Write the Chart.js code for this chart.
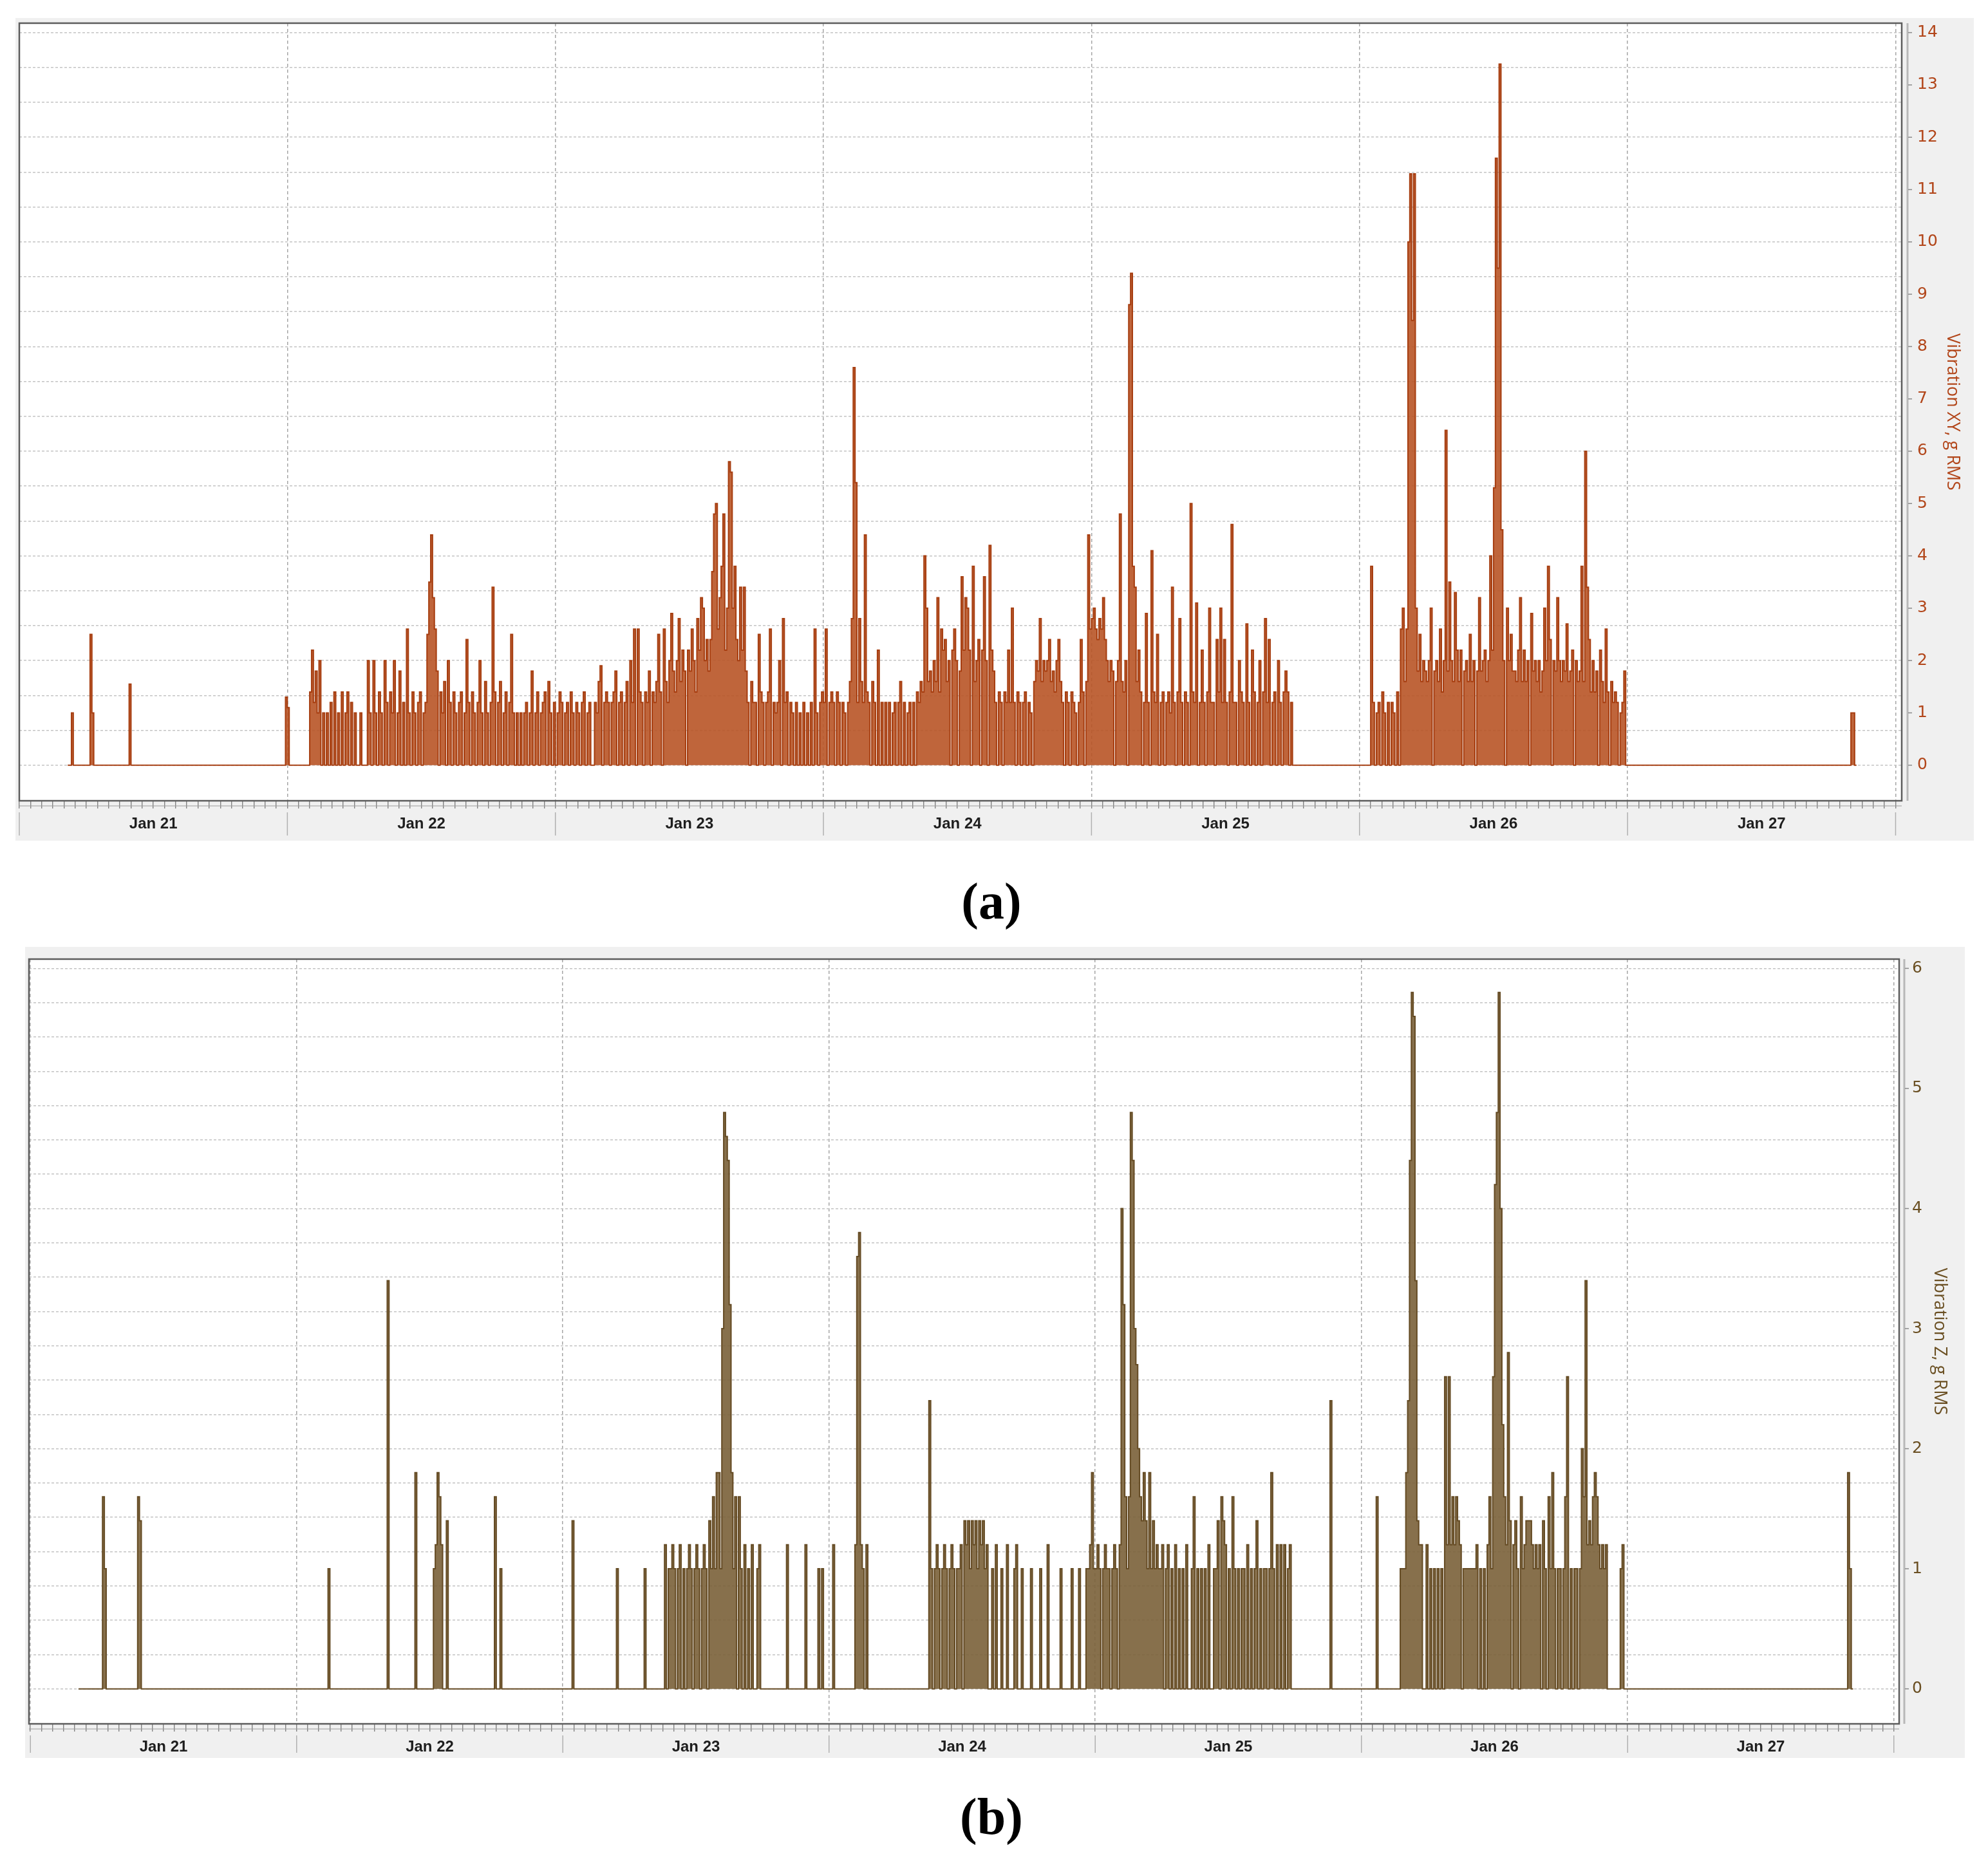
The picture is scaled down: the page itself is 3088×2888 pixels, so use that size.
<!DOCTYPE html>
<html><head><meta charset="utf-8">
<script src="https://cdn.jsdelivr.net/npm/chart.js@4.4.1/dist/chart.umd.min.js"></script>
<style>
html,body{margin:0;padding:0;background:#fff;width:3088px;height:2888px;overflow:hidden;position:relative;}
canvas{position:absolute;}
#ca{left:24px;top:28px;width:3042px;height:1278px;}
#cb{left:39px;top:1471px;width:3013px;height:1260px;}
.cap{position:absolute;transform:translate(-50%,-50%);font:bold 80px "Liberation Serif","Times New Roman",serif;color:#000;line-height:1;}
</style></head><body>
<canvas id="ca" width="3042" height="1278"></canvas>
<canvas id="cb" width="3013" height="1260"></canvas>
<div class="cap" style="left:1540px;top:1400px">(a)</div>
<div class="cap" style="left:1540px;top:2822px">(b)</div>
<script>
// ---- categories / tick labels ----
const dayLabels = ['Jan 21','Jan 22','Jan 23','Jan 24','Jan 25','Jan 26','Jan 27'];
const xyTickValues = [0,1,2,3,4,5,6,7,8,9,10,11,12,13,14];
const zTickValues = [0,1,2,3,4,5,6];
const SAMPLES_PER_HOUR = 6; // one value every 10 minutes, one line = one hour

// ---- (a) Vibration XY, g RMS ----
const xyJan21 = [
 null,null,null,null,null,null,
 null,null,null,null,null,null,
 null,null,null,null,null,null,
 null,null,null,null,null,null,
 null,null,0,0,0,1.0,
 0,0,0,0,0,0,
 0,0,0,2.5,1.0,0,
 0,0,0,0,0,0,
 0,0,0,0,0,0,
 0,0,0,0,0,0,
 1.55,0,0,0,0,0,
 0,0,0,0,0,0,
 0,0,0,0,0,0,
 0,0,0,0,0,0,
 0,0,0,0,0,0,
 0,0,0,0,0,0,
 0,0,0,0,0,0,
 0,0,0,0,0,0,
 0,0,0,0,0,0,
 0,0,0,0,0,0,
 0,0,0,0,0,0,
 0,0,0,0,0,0,
 0,0,0,0,0,0,
 0,0,0,0,0,0
];
const xyJan22 = [
 1.3,1.1,0,0,0,0,
 0,0,0,0,0,0,
 0,1.4,2.2,1.2,1.8,1.0,
 2.0,0,1.0,0,1.0,0,
 1.2,0,1.4,0,1.0,0,
 1.4,0,1.0,1.4,0,1.2,
 0,1.0,0,0,1.0,0,
 0,0,2.0,1.0,0,2.0,
 1.0,0,1.4,1.0,0,2.0,
 1.2,0,1.4,1.0,2.0,0,
 1.0,1.8,0,1.2,0,2.6,
 1.0,0,1.4,1.0,0,1.2,
 1.4,0,1.0,1.2,2.5,3.5,
 4.4,3.2,2.6,1.8,0,1.4,
 1.0,1.6,0,2.0,1.2,0,
 1.4,1.0,0,1.2,1.4,0,
 1.0,2.4,1.2,0,1.4,1.0,
 0,1.2,2.0,1.0,0,1.6,
 1.0,0,1.2,3.4,1.4,0,
 1.2,1.6,0,1.0,1.4,0,
 1.2,2.5,1.0,0,1.0,0,
 1.0,0,1.0,1.2,0,1.0,
 1.8,0,1.0,1.4,0,1.0,
 1.2,1.4,0,1.6,1.0,0
];
const xyJan23 = [
 1.2,0,1.0,1.4,1.2,0,
 1.0,1.2,0,1.4,1.0,0,
 1.2,1.0,0,1.2,1.4,0,
 1.0,1.2,0,0,1.2,1.0,
 1.6,1.9,0,1.2,1.4,1.2,
 0,1.2,1.4,1.8,0,1.2,
 1.4,0,1.2,1.6,0,2.0,
 1.2,2.6,0,2.6,1.4,1.2,
 0,1.4,1.2,1.8,0,1.4,
 1.2,1.6,2.5,1.4,0,2.6,
 1.6,1.2,2.0,2.9,1.8,1.4,
 2.0,2.8,1.6,2.2,1.8,0,
 2.2,1.8,2.6,2.0,1.4,2.8,
 2.2,3.2,3.0,2.0,2.4,1.8,
 2.4,3.7,4.8,5.0,2.6,3.2,
 3.8,4.8,2.2,3.0,5.8,5.6,
 3.0,3.8,2.4,2.0,3.4,2.2,
 3.4,1.8,1.2,0,1.6,1.2,
 1.2,0,2.5,1.4,1.2,0,
 1.2,1.4,2.6,0,1.2,1.0,
 1.2,2.0,0,2.8,1.2,1.4,
 0,1.2,1.0,0,1.2,0,
 1.0,0,1.2,0,1.0,0,
 1.2,0,2.6,1.0,0,1.2
];
const xyJan24 = [
 1.4,1.2,2.6,0,1.2,1.4,
 1.2,0,1.4,1.2,0,1.2,
 1.0,0,1.2,1.6,2.8,7.6,
 5.4,1.2,2.8,1.6,1.2,4.4,
 1.4,1.2,0,1.6,1.2,0,
 2.2,0,1.2,0,1.2,0,
 1.2,0,1.0,1.2,0,1.2,
 1.6,0,1.2,0,1.0,1.2,
 0,1.2,0,1.4,1.2,1.6,
 1.4,4.0,3.0,1.6,1.8,1.4,
 2.0,1.6,3.2,1.4,2.6,2.2,
 2.4,1.6,2.0,0,2.2,2.6,
 2.0,0,1.8,3.6,2.2,3.2,
 3.0,2.2,0,3.8,1.6,2.0,
 2.4,0,2.2,3.6,2.0,0,
 4.2,2.2,1.8,1.2,0,1.4,
 1.2,0,1.4,1.2,2.2,1.2,
 3.0,1.2,0,1.4,1.2,0,
 1.2,1.4,0,1.2,1.0,0,
 1.6,2.0,1.8,2.8,1.6,2.0,
 1.8,2.0,2.4,1.6,1.8,1.4,
 2.0,2.4,1.6,1.2,0,1.4,
 1.2,0,1.4,1.2,1.0,0,
 1.2,2.4,1.4,0,1.6,4.4
];
const xyJan25 = [
 2.6,2.8,3.0,2.6,2.4,2.8,
 2.6,3.2,2.4,2.0,1.6,2.0,
 1.8,0,1.6,2.0,4.8,1.6,
 1.4,2.0,0,8.8,9.4,3.8,
 3.4,1.6,2.2,1.4,0,1.2,
 2.9,1.2,0,4.1,1.4,1.2,
 2.5,0,1.2,1.4,0,1.2,
 1.4,1.0,3.4,1.2,0,1.4,
 2.8,1.2,0,1.4,1.2,0,
 5.0,1.4,1.2,3.1,0,1.2,
 2.2,1.2,0,1.4,3.0,1.2,
 1.2,0,2.4,1.4,3.0,1.2,
 2.4,1.2,0,1.4,4.6,1.2,
 1.2,0,2.0,1.4,1.2,0,
 2.7,1.2,0,2.2,1.4,0,
 1.2,2.0,0,1.4,2.8,1.2,
 2.4,0,1.2,1.4,0,2.0,
 1.2,0,1.4,1.8,1.4,0,
 1.2,0,0,0,0,0,
 0,0,0,0,0,0,
 0,0,0,0,0,0,
 0,0,0,0,0,0,
 0,0,0,0,0,0,
 0,0,0,0,0,0
];
const xyJan26 = [
 0,0,0,0,0,0,
 0,3.8,1.2,0,1.0,1.2,
 0,1.4,1.0,0,1.2,0,
 1.2,1.0,0,1.4,0,2.6,
 3.0,1.6,2.6,10.0,11.3,8.5,
 11.3,3.0,1.8,2.5,1.6,2.0,
 1.8,1.6,2.0,3.0,0,1.8,
 2.0,1.6,2.6,1.4,2.0,6.4,
 1.8,3.5,2.0,1.6,3.3,2.2,
 1.6,2.2,0,1.8,2.0,1.6,
 2.5,1.6,2.0,0,1.8,3.2,
 1.8,2.0,2.2,1.6,2.0,4.0,
 2.2,5.3,11.6,9.5,13.4,4.5,
 2.0,0,3.0,2.0,2.5,1.8,
 1.8,1.6,2.2,3.2,1.6,2.2,
 1.6,2.0,0,2.9,1.8,2.0,
 1.6,2.0,1.4,1.8,3.0,2.0,
 3.8,2.4,0,2.0,1.8,3.2,
 2.0,1.6,2.0,1.8,2.7,1.6,
 1.8,2.2,0,2.0,1.6,1.8,
 3.8,1.6,6.0,3.4,2.4,1.4,
 2.0,1.4,1.8,0,2.2,1.6,
 1.2,2.6,1.4,0,1.6,1.2,
 1.4,1.2,0,1.0,1.2,1.8
];
const xyJan27 = [
 0,0,0,0,0,0,
 0,0,0,0,0,0,
 0,0,0,0,0,0,
 0,0,0,0,0,0,
 0,0,0,0,0,0,
 0,0,0,0,0,0,
 0,0,0,0,0,0,
 0,0,0,0,0,0,
 0,0,0,0,0,0,
 0,0,0,0,0,0,
 0,0,0,0,0,0,
 0,0,0,0,0,0,
 0,0,0,0,0,0,
 0,0,0,0,0,0,
 0,0,0,0,0,0,
 0,0,0,0,0,0,
 0,0,0,0,0,0,
 0,0,0,0,0,0,
 0,0,0,0,0,0,
 0,0,0,0,0,0,
 0,1.0,1.0,0,null,null,
 null,null,null,null,null,null,
 null,null,null,null,null,null,
 null,null,null,null,null,null
];

// ---- (b) Vibration Z, g RMS ----
const zJan21 = [
 null,null,null,null,null,null,
 null,null,null,null,null,null,
 null,null,null,null,null,null,
 null,null,null,null,null,null,
 null,null,0,0,0,0,
 0,0,0,0,0,0,
 0,0,0,0,1.6,1.0,
 0,0,0,0,0,0,
 0,0,0,0,0,0,
 0,0,0,0,0,1.6,
 1.4,0,0,0,0,0,
 0,0,0,0,0,0,
 0,0,0,0,0,0,
 0,0,0,0,0,0,
 0,0,0,0,0,0,
 0,0,0,0,0,0,
 0,0,0,0,0,0,
 0,0,0,0,0,0,
 0,0,0,0,0,0,
 0,0,0,0,0,0,
 0,0,0,0,0,0,
 0,0,0,0,0,0,
 0,0,0,0,0,0,
 0,0,0,0,0,0
];
const zJan22 = [
 0,0,0,0,0,0,
 0,0,0,0,0,0,
 0,0,0,0,0,0,
 1.0,0,0,0,0,0,
 0,0,0,0,0,0,
 0,0,0,0,0,0,
 0,0,0,0,0,0,
 0,0,0,0,0,0,
 0,0,3.4,0,0,0,
 0,0,0,0,0,0,
 0,0,0,0,0,1.8,
 0,0,0,0,0,0,
 0,0,0,1.0,1.2,1.8,
 1.6,1.2,0,0,1.4,0,
 0,0,0,0,0,0,
 0,0,0,0,0,0,
 0,0,0,0,0,0,
 0,0,0,0,0,0,
 1.6,0,0,1.0,0,0,
 0,0,0,0,0,0,
 0,0,0,0,0,0,
 0,0,0,0,0,0,
 0,0,0,0,0,0,
 0,0,0,0,0,0
];
const zJan23 = [
 0,0,0,0,0,0,
 1.4,0,0,0,0,0,
 0,0,0,0,0,0,
 0,0,0,0,0,0,
 0,0,0,0,0,0,
 1.0,0,0,0,0,0,
 0,0,0,0,0,0,
 0,0,0,1.0,0,0,
 0,0,0,0,0,0,
 0,0,1.2,0,1.0,1.0,
 1.2,1.0,0,1.0,1.2,0,
 1.0,0,1.0,1.2,1.0,0,
 1.0,1.2,1.0,0,1.0,1.2,
 1.0,0,1.4,1.0,1.6,1.0,
 1.8,1.8,1.0,3.0,4.8,4.6,
 4.4,3.2,1.8,1.0,1.6,0,
 1.6,1.0,0,1.2,0,1.0,
 0,1.2,0,0,1.0,1.2,
 0,0,0,0,0,0,
 0,0,0,0,0,0,
 0,0,1.2,0,0,0,
 0,0,0,0,0,0,
 1.2,0,0,0,0,0,
 0,1.0,0,1.0,0,0
];
const zJan24 = [
 0,0,0,1.2,0,0,
 0,0,0,0,0,0,
 0,0,0,1.2,3.6,3.8,
 1.2,1.0,0,1.2,0,0,
 0,0,0,0,0,0,
 0,0,0,0,0,0,
 0,0,0,0,0,0,
 0,0,0,0,0,0,
 0,0,0,0,0,0,
 0,2.4,1.0,0,1.0,1.2,
 1.0,0,1.0,1.2,1.0,0,
 1.0,1.2,1.0,0,1.0,1.0,
 1.2,0,1.4,1.2,1.4,1.0,
 1.4,1.2,1.4,1.0,1.4,1.2,
 1.4,1.0,1.2,0,0,1.0,
 0,1.2,0,0,1.0,0,
 0,1.2,0,0,0,1.0,
 1.2,0,0,1.0,0,0,
 0,0,1.0,0,0,0,
 0,1.0,0,0,0,1.2,
 0,0,0,0,0,0,
 1.0,0,0,0,0,0,
 1.0,0,0,0,1.0,0,
 0,0,1.0,1.0,1.2,1.8
];
const zJan25 = [
 1.0,1.0,1.2,1.0,0,1.0,
 1.2,1.0,1.0,0,1.0,1.2,
 1.0,0,1.2,4.0,3.2,1.6,
 1.0,1.6,4.8,4.4,3.0,2.7,
 2.0,1.6,1.4,1.8,1.4,1.0,
 1.8,1.0,1.4,1.0,1.2,1.0,
 1.0,1.2,0,1.0,1.2,0,
 1.0,0,1.2,0,1.0,0,
 1.0,0,1.2,0,0,1.0,
 1.6,0,1.0,0,1.0,0,
 1.0,0,1.2,0,0,1.0,
 1.0,1.4,0,1.6,1.4,1.2,
 0,1.0,0,1.6,1.0,0,
 1.0,0,1.0,1.0,0,1.2,
 0,1.0,0,1.0,1.4,0,
 1.0,0,1.0,1.0,0,1.0,
 1.8,1.0,0,1.2,0,1.2,
 0,1.2,0,1.0,1.2,0,
 0,0,0,0,0,0,
 0,0,0,0,0,0,
 0,0,0,0,0,0,
 0,0,2.4,0,0,0,
 0,0,0,0,0,0,
 0,0,0,0,0,0
];
const zJan26 = [
 0,0,0,0,0,0,
 0,0,0,1.6,0,0,
 0,0,0,0,0,0,
 0,0,0,0,1.0,1.0,
 1.0,1.8,2.4,4.4,5.8,5.6,
 3.4,1.4,1.2,1.2,0,0,
 1.2,0,1.0,0,1.0,0,
 1.0,0,1.0,0,2.6,1.2,
 2.6,1.2,1.6,1.2,1.6,1.4,
 1.2,0,1.0,1.0,1.0,1.0,
 1.0,1.0,1.0,1.2,0,1.0,
 0,1.0,0,1.2,1.6,1.0,
 2.6,4.2,4.8,5.8,4.0,2.2,
 1.6,1.2,2.8,1.4,0,1.2,
 1.4,1.0,0,1.6,1.0,1.2,
 1.4,1.4,1.4,1.2,1.0,1.2,
 1.0,1.2,0,1.4,1.0,0,
 1.6,1.0,1.8,1.0,0,1.0,
 1.0,0,1.0,1.6,2.6,0,
 1.0,0,1.0,1.0,0,1.0,
 2.0,1.6,3.4,1.2,1.4,1.2,
 1.6,1.8,1.6,1.2,1.0,1.2,
 1.0,1.2,0,0,0,0,
 0,0,0,1.0,1.2,0
];
const zJan27 = [
 0,0,0,0,0,0,
 0,0,0,0,0,0,
 0,0,0,0,0,0,
 0,0,0,0,0,0,
 0,0,0,0,0,0,
 0,0,0,0,0,0,
 0,0,0,0,0,0,
 0,0,0,0,0,0,
 0,0,0,0,0,0,
 0,0,0,0,0,0,
 0,0,0,0,0,0,
 0,0,0,0,0,0,
 0,0,0,0,0,0,
 0,0,0,0,0,0,
 0,0,0,0,0,0,
 0,0,0,0,0,0,
 0,0,0,0,0,0,
 0,0,0,0,0,0,
 0,0,0,0,0,0,
 0,0,0,0,0,0,
 1.8,1.0,0,null,null,null,
 null,null,null,null,null,null,
 null,null,null,null,null,null,
 null,null,null,null,null,null
];

// ---- build points: day d, sample i -> hour since Jan 21 00:00 ----
function toPoints(days) {
  const pts = [];
  days.forEach((day, d) => {
    if (day.length !== 24 * SAMPLES_PER_HOUR) console.warn('day', d, 'has', day.length);
    day.forEach((v, i) => pts.push({ x: d * 24 + i / SAMPLES_PER_HOUR, y: v }));
  });
  return pts;
}
const xyPoints = toPoints([xyJan21, xyJan22, xyJan23, xyJan24, xyJan25, xyJan26, xyJan27]);
const zPoints = toPoints([zJan21, zJan22, zJan23, zJan24, zJan25, zJan26, zJan27]);

const dayBoundaries = dayLabels.map((_, i) => i * 24).concat([dayLabels.length * 24]);
const GRID_STEPS = 21;

const panelDecor = {
  id: 'panelDecor',
  beforeDraw(chart, args, o) {
    const { ctx, chartArea: a, width, height } = chart;
    ctx.save();
    ctx.fillStyle = '#f0f0f0';
    ctx.fillRect(0, 0, width, height);
    ctx.fillStyle = '#ffffff';
    ctx.fillRect(a.left, a.top, a.right - a.left, a.bottom - a.top);
    ctx.restore();
  },
  afterDraw(chart, args, o) {
    const { ctx, chartArea: a, scales } = chart;
    const line = (x1, y1, x2, y2) => { ctx.beginPath(); ctx.moveTo(x1, y1); ctx.lineTo(x2, y2); ctx.stroke(); };
    ctx.save();
    ctx.strokeStyle = '#9a9a9a'; ctx.lineWidth = 1;
    line(a.left, a.bottom + 8, a.right, a.bottom + 8);
    ctx.strokeStyle = '#5c5c5c'; ctx.lineWidth = 2.5;
    ctx.strokeRect(a.left, a.top, a.right - a.left, a.bottom - a.top);
    const ax = a.right + o.axisGap;
    ctx.strokeStyle = '#b8b8b8'; ctx.lineWidth = 3;
    line(ax, a.top, ax, a.bottom);
    ctx.strokeStyle = '#8a8a8a'; ctx.lineWidth = 1.5;
    scales.y.ticks.forEach(t => { const py = scales.y.getPixelForValue(t.value); line(ax + 1, py, ax + 7, py); });
    ctx.strokeStyle = '#b0b0b0'; ctx.lineWidth = 1.5;
    dayBoundaries.forEach(h => { const px = scales.x.getPixelForValue(h); line(px, a.bottom + o.sepTop, px, a.bottom + o.sepBottom); });
    ctx.restore();
  }
};

function noPad(s) { s.paddingTop = 0; s.paddingBottom = 0; s.paddingLeft = 0; s.paddingRight = 0; }

function makeChart(id, cfg) {
  const yRange = cfg.ticks[cfg.ticks.length - 1];
  const k = yRange / GRID_STEPS;
  return new Chart(document.getElementById(id), {
    type: 'line',
    data: { datasets: [{
      data: cfg.points,
      stepped: 'after',
      borderColor: cfg.line,
      backgroundColor: cfg.fill,
      fill: 'origin',
      borderWidth: 2,
      pointRadius: 0,
      spanGaps: false,
      xAxisID: 'x', yAxisID: 'y'
    }]},
    options: {
      responsive: false, animation: false, devicePixelRatio: 1,
      layout: { padding: { left: 6, top: cfg.padTop, right: 0, bottom: 0 } },
      plugins: { legend: { display: false }, tooltip: { enabled: false },
                 panelDecor: { axisGap: cfg.axisGap, sepTop: 18, sepBottom: cfg.xHeight - 8 } },
      scales: {
        x: {
          type: 'linear', position: 'bottom', min: cfg.xMin, max: cfg.xMax,
          afterBuildTicks: s => { const t = []; for (let h = 0; h <= 168; h++) t.push({ value: h }); s.ticks = t; },
          afterFit: s => { s.height = cfg.xHeight; noPad(s); },
          ticks: { autoSkip: false, maxRotation: 0, padding: 10, color: '#1e1e1e',
                   font: { family: '"Liberation Sans Narrow","Arial Narrow",sans-serif', size: 24, weight: 'bold' },
                   callback: v => (v % 24 === 12 ? dayLabels[(v - 12) / 24] : '') },
          grid: { color: c => (c.tick && c.tick.value % 24 === 0) ? '#a6a6a6' : 'rgba(0,0,0,0)',
                  lineWidth: 1.5, tickColor: '#707070', tickWidth: 1.2, tickLength: 12, tickBorderDash: [] },
          border: { display: false, dash: [5, 4] }
        },
        yg: {
          type: 'linear', position: 'left', min: -1.02, max: 21.27,
          afterBuildTicks: s => { const t = []; for (let i = 0; i <= GRID_STEPS; i++) t.push({ value: i }); s.ticks = t; },
          afterFit: s => { s.width = 0; noPad(s); },
          ticks: { display: false },
          grid: { color: '#c4c4c4', lineWidth: 1.5, drawTicks: false },
          border: { display: false, dash: [4, 3] }
        },
        y: {
          type: 'linear', position: 'right', min: -1.02 * k, max: 21.27 * k,
          afterBuildTicks: s => { s.ticks = cfg.ticks.map(v => ({ value: v })); },
          afterFit: s => { s.width = cfg.yWidth; noPad(s); },
          ticks: { color: cfg.text, padding: cfg.labelPad,
                   font: { family: '"DejaVu Sans",Verdana,sans-serif', size: 25 } },
          grid: { display: false, drawTicks: false },
          border: { display: false },
          title: { display: true, text: cfg.title, color: cfg.text,
                   font: { family: '"Open Sans","Segoe UI",sans-serif', size: 27 },
                   padding: { top: cfg.titlePad, bottom: 0 } }
        }
      }
    },
    plugins: [panelDecor]
  });
}

makeChart('ca', {
  points: xyPoints, ticks: xyTickValues, title: 'Vibration XY, g RMS',
  line: 'rgba(163,56,10,0.95)', fill: 'rgba(184,84,38,0.9)', text: '#b2461a',
  xMin: 0, xMax: 168.55, padTop: 8, xHeight: 62, yWidth: 112, labelPad: 24, titlePad: 17, axisGap: 9
});
makeChart('cb', {
  points: zPoints, ticks: zTickValues, title: 'Vibration Z, g RMS',
  line: 'rgba(96,70,30,0.95)', fill: 'rgba(122,96,56,0.9)', text: '#6a4f22',
  xMin: -0.13, xMax: 168.48, padTop: 19, xHeight: 53, yWidth: 102, labelPad: 20, titlePad: 23, axisGap: 8
});
</script>
</body></html>
